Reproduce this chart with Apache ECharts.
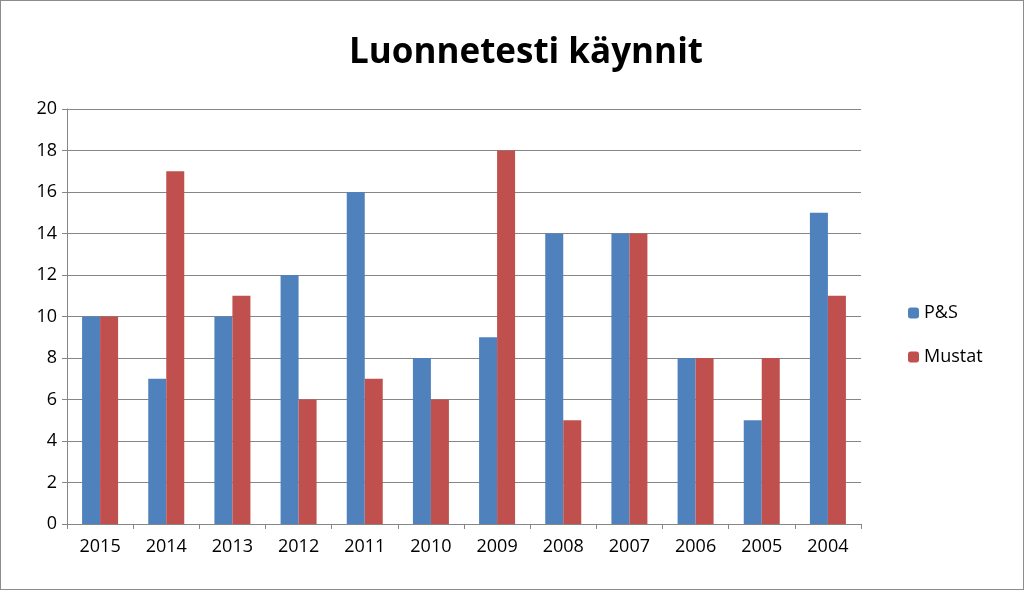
<!DOCTYPE html>
<html><head><meta charset="utf-8">
<script src="https://cdn.jsdelivr.net/npm/echarts@6/dist/echarts.min.js"></script>
<style>html,body{margin:0;padding:0;background:#fff}#c{width:1022px;height:588px;border:1px solid #8c8c8c}</style>
</head><body><div id="c"></div>
<script>
const categories=['2015','2014','2013','2012','2011','2010','2009','2008','2007','2006','2005','2004'];
const ps=[10,7,10,12,16,8,9,14,14,8,5,15];
const mustat=[10,17,11,6,7,6,18,5,14,8,8,11];
const chart=echarts.init(document.getElementById('c'));
chart.setOption({
  animation:false,
  title:{text:'Luonnetesti käynnit',left:520,top:30,textAlign:'center',textStyle:{fontFamily:'Open Sans',fontSize:35,fontWeight:'bold',color:'#000'}},
  legend:{orient:'vertical',left:902,top:298,itemWidth:11,itemHeight:11,itemGap:26,textStyle:{fontFamily:'Open Sans',fontSize:18,color:'#000'},data:['P&S','Mustat']},
  grid:{left:66,right:162,top:108,bottom:65},
  xAxis:{type:'category',data:categories,axisTick:{show:true,alignWithLabel:false,lineStyle:{color:'#868686'}},axisLine:{lineStyle:{color:'#868686'}},axisLabel:{fontFamily:'Open Sans',fontSize:18,color:'#000',margin:14}},
  yAxis:{type:'value',min:0,max:20,interval:2,axisLine:{show:true,lineStyle:{color:'#868686'}},axisTick:{show:true,lineStyle:{color:'#868686'}},splitLine:{lineStyle:{color:'#868686'}},axisLabel:{fontFamily:'Open Sans',fontSize:18,color:'#000',margin:10}},
  series:[
    {name:'P&S',type:'bar',data:ps,barWidth:18,barGap:'0%',itemStyle:{color:'#4F81BD'}},
    {name:'Mustat',type:'bar',data:mustat,barWidth:18,itemStyle:{color:'#C0504D'}}
  ]
});
</script></body></html>
